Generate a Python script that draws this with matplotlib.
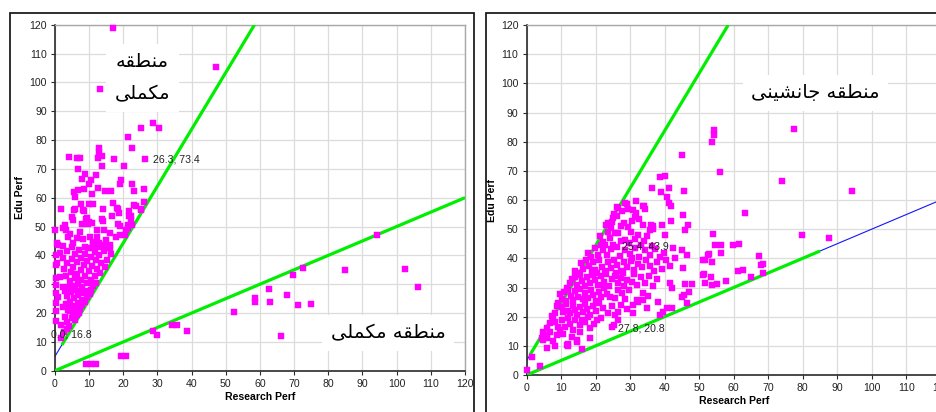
import matplotlib
matplotlib.use("Agg")
import matplotlib.pyplot as plt
from matplotlib import font_manager
from matplotlib.ft2font import FT2Font
from matplotlib.patches import Rectangle

# ---------------------------------------------------------------- data
# (Research Perf, Edu Perf) pairs, first chart
left_high = [(17.1, 118.8), (47.1, 105.5), (13.2, 97.7), (28.7, 85.8), (30.3, 84.3),
             (25.3, 84.3), (21.4, 81.2), (22.4, 77.4), (13.0, 77.3), (12.8, 75.9),
             (4.2, 74.2), (6.3, 73.8), (7.3, 73.8), (13.7, 74.6), (12.6, 73.7),
             (17.2, 73.5), (26.3, 73.4), (13.8, 71.1), (20.2, 71.0), (6.7, 70.0),
             (8.8, 68.3), (12.1, 68.0), (7.9, 66.5), (10.5, 66.1), (19.4, 66.1),
             (19.0, 64.8), (10.0, 64.8), (22.4, 64.6), (12.6, 63.3), (8.5, 62.9),
             (6.8, 62.7), (5.6, 62.0), (14.5, 62.3), (16.3, 62.3), (23.0, 62.3),
             (26.0, 62.9), (10.7, 61.2), (5.9, 60.4)]
left_mid = [(7.6, 57.8), (10.0, 57.8), (11.2, 57.8), (16.9, 58.1), (23.0, 57.4),
            (23.7, 57.2), (26.0, 58.4), (1.7, 56.1), (5.6, 55.7), (5.9, 56.1),
            (8.1, 55.7), (8.6, 55.4), (14.0, 56.0), (18.1, 56.4), (18.3, 56.0),
            (18.6, 54.6), (21.7, 55.5), (25.1, 55.7), (25.2, 56.0), (16.6, 53.5),
            (14.0, 51.9), (9.1, 52.6), (4.9, 53.2), (5.2, 52.3), (9.5, 52.9),
            (10.0, 51.7), (13.7, 52.5), (21.7, 53.7), (22.2, 52.3), (22.1, 53.8),
            (9.6, 50.8), (10.7, 51.1), (8.0, 50.9), (18.5, 50.8), (19.0, 50.2),
            (21.5, 50.5), (22.4, 50.5), (21.3, 49.4), (3.0, 50.4), (2.4, 49.4)]
left_core = [(1.8, 11.3), (1.9, 15.9), (2.5, 13.5), (3.5, 14.5), (4.2, 15.5), (0.3, 17.3),
             (2.9, 18.7), (4.9, 18.2), (5.9, 17.6), (3.6, 16.8), (6.4, 19.2), (0.2, 20.8),
             (3.9, 21.0), (5.4, 19.9), (4.5, 20.6), (7.0, 20.0),
             (5.0, 22.3), (6.2, 22.0), (7.3, 21.5), (8.0, 22.8), (3.2, 23.0), (4.3, 23.8),
             (6.6, 23.6), (8.9, 23.9), (0.3, 23.5), (2.2, 22.2),
             (7.8, 24.5), (9.3, 25.7), (5.5, 25.2), (3.6, 25.8), (6.8, 26.4), (8.3, 26.9),
             (10.2, 26.6), (4.7, 27.3), (1.0, 25.7), (0.3, 26.9), (2.8, 27.6), (9.6, 27.8),
             (7.4, 27.8), (6.0, 28.1),
             (10.4, 28.0), (3.8, 28.9), (5.1, 29.4), (8.0, 29.1), (11.2, 29.5), (2.4, 29.1),
             (0.3, 29.7), (6.6, 30.2), (9.3, 30.5), (12.0, 30.3), (4.4, 31.0), (7.6, 31.4),
             (10.6, 31.6), (1.5, 32.6), (5.8, 32.0), (0.2, 32.3),
             (3.2, 33.0), (8.9, 32.8), (11.8, 33.0), (13.2, 33.8), (6.5, 33.6), (4.8, 34.4),
             (9.9, 34.6), (7.6, 35.0), (12.4, 35.3), (5.4, 35.9), (14.6, 36.1), (0.3, 36.7),
             (2.5, 35.2), (10.8, 36.2), (8.6, 36.6),
             (0.7, 37.3), (3.6, 37.5), (6.3, 37.8), (9.4, 38.0), (11.9, 38.3), (15.1, 38.4),
             (13.6, 37.2), (4.9, 38.9), (7.7, 39.2), (10.5, 39.6), (2.2, 39.2), (13.0, 40.0),
             (16.4, 40.4), (8.8, 40.5), (5.9, 40.6), (0.3, 40.2),
             (1.5, 40.7), (11.7, 41.2), (14.4, 41.6), (3.6, 41.6), (7.0, 42.0), (9.6, 42.4),
             (11.0, 42.4), (16.1, 42.5), (5.0, 42.8), (12.8, 43.0), (1.0, 43.6), (2.4, 43.2),
             (8.8, 43.0), (14.4, 43.7), (16.0, 43.7), (0.5, 44.2), (5.4, 44.2), (13.0, 44.2),
             (8.1, 45.6), (10.2, 46.5), (12.2, 46.5), (6.3, 46.1), (3.9, 46.5), (14.9, 45.3),
             (17.9, 46.5), (19.0, 47.1), (20.5, 47.1), (0.0, 48.8), (3.2, 48.8), (12.2, 48.8),
             (14.4, 48.8), (20.9, 48.8), (16.2, 47.6), (7.2, 48.0), (11.1, 44.8), (4.5, 47.4)]
left_outer = [(28.6, 13.9), (29.8, 12.4), (34.1, 15.9), (35.6, 15.9), (38.5, 13.9),
              (19.2, 5.2), (20.8, 5.2), (9.1, 2.3), (10.4, 2.3), (12.0, 2.3),
              (52.4, 20.3), (58.5, 25.1), (58.5, 23.9), (62.7, 28.2), (62.9, 23.8),
              (66.1, 12.1), (67.8, 26.1), (69.6, 33.1), (72.5, 35.7), (71.1, 22.9),
              (74.9, 23.1), (84.9, 34.8), (94.1, 47.1), (102.4, 35.2), (106.1, 29.1)]

# (Research Perf, Edu Perf) pairs, second chart
right_outer = [(54.3, 83.9), (54.3, 82.3), (53.7, 80.0), (77.5, 84.3), (56.1, 69.5),
               (73.9, 66.6), (94.4, 63.0), (45.1, 75.4), (38.6, 68.0), (40.1, 68.3),
               (36.2, 64.0), (38.9, 62.6), (41.3, 64.0), (45.6, 63.2), (40.6, 61.1),
               (41.3, 59.1), (41.7, 58.0), (63.3, 55.4), (53.9, 48.2), (79.7, 47.9),
               (87.7, 46.9), (54.7, 44.6), (56.3, 44.6), (59.9, 44.6), (61.6, 44.9),
               (52.8, 41.4), (56.3, 41.9), (51.7, 39.4), (53.6, 38.7), (67.4, 40.9),
               (67.8, 37.7), (68.6, 38.1), (61.3, 35.8), (62.8, 36.0), (68.6, 35.1),
               (51.4, 34.5), (53.3, 33.7), (64.9, 33.7), (53.6, 30.9), (55.1, 31.2),
               (57.8, 32.2)]
right_upper = [(26.1, 57.7), (26.6, 57.2), (28.5, 58.9), (29.0, 58.8), (29.5, 57.0),
               (30.9, 56.7), (31.6, 59.8), (31.7, 55.6), (33.8, 57.9), (34.1, 58.0),
               (34.3, 56.8), (27.6, 56.2), (25.4, 55.3),
               (23.0, 51.4), (23.7, 52.2), (24.6, 52.6), (25.1, 53.7), (26.3, 54.6),
               (28.2, 52.2), (30.4, 52.8), (29.4, 50.6), (27.3, 51.2), (32.6, 53.6),
               (33.8, 51.4), (35.7, 49.7), (36.0, 51.4), (36.5, 51.1), (36.7, 50.0),
               (39.1, 51.4), (41.7, 52.9), (45.4, 54.9), (46.8, 51.4), (31.4, 54.1),
               (24.4, 50.3),
               (21.3, 47.6), (22.2, 45.7), (22.7, 44.6), (24.0, 47.0), (25.6, 48.8),
               (26.6, 48.8), (28.5, 46.3), (30.1, 48.9), (32.3, 48.0), (33.9, 46.0),
               (35.0, 47.6), (29.7, 45.2), (27.3, 45.8), (40.1, 48.0), (45.9, 49.7),
               (31.3, 46.7), (23.5, 49.1),
               (19.8, 43.4), (17.9, 41.9), (18.6, 40.4), (20.6, 41.3), (22.2, 42.9),
               (23.4, 41.0), (25.1, 44.6), (26.1, 44.0), (24.5, 43.3), (28.5, 42.9),
               (27.0, 40.9), (29.8, 41.5), (31.4, 43.6), (32.6, 40.6), (34.2, 42.8),
               (35.8, 41.2), (37.3, 43.3), (38.6, 40.4), (30.4, 40.2), (21.5, 44.6),
               (33.1, 44.6), (36.4, 44.1), (42.5, 43.6), (44.9, 42.9), (46.4, 41.1),
               (52.6, 41.1), (39.7, 42.0)]
right_middle = [(15.6, 38.4), (16.3, 36.4), (17.2, 39.5), (18.0, 37.3), (19.3, 38.7),
                (19.7, 36.0), (20.9, 39.6), (21.8, 37.2), (22.6, 35.6), (23.5, 38.6),
                (24.3, 36.8), (25.4, 39.4), (26.3, 37.6), (27.2, 35.5), (28.1, 38.9),
                (29.2, 37.0), (30.3, 39.2), (31.0, 36.0), (32.2, 38.1), (33.4, 36.9),
                (34.5, 39.6), (35.6, 37.4), (36.8, 35.8), (37.9, 38.7), (39.2, 36.4),
                (40.3, 39.4), (41.5, 37.3), (43.0, 40.0), (45.2, 36.6), (51.2, 39.4),
                (18.8, 35.2), (25.8, 35.1), (13.9, 35.8),
                (12.6, 31.4), (13.2, 33.0), (14.0, 33.7), (14.6, 31.0), (15.4, 34.4),
                (16.1, 32.3), (16.8, 30.5), (17.5, 33.6), (18.4, 31.5), (19.1, 34.3),
                (19.9, 32.5), (20.7, 30.7), (21.4, 33.8), (22.3, 31.8), (23.1, 34.6),
                (23.9, 30.4), (24.8, 32.9), (25.7, 34.1), (26.5, 31.4), (27.4, 33.2),
                (28.3, 30.6), (29.2, 32.6), (30.4, 32.0), (31.2, 34.6), (32.1, 30.8),
                (33.0, 33.6), (34.2, 31.6), (35.5, 33.9), (36.6, 30.5), (37.8, 32.8),
                (41.5, 31.4), (45.9, 31.1), (47.8, 31.1), (51.7, 31.4), (51.2, 34.3),
                (14.9, 35.0), (20.3, 35.0), (27.9, 34.9)]
right_lower = [(10.2, 26.2), (10.8, 28.4), (11.4, 25.3), (12.1, 29.1), (12.7, 27.2),
               (13.4, 25.6), (14.1, 28.9), (14.8, 26.8), (15.5, 29.6), (16.3, 25.9),
               (17.0, 28.0), (17.8, 26.5), (18.5, 29.2), (19.3, 27.4), (20.1, 25.4),
               (20.9, 28.6), (21.6, 26.9), (22.4, 29.8), (23.2, 27.7), (24.1, 26.8),
               (25.6, 26.3), (26.4, 29.0), (27.5, 28.0), (28.6, 25.9), (29.7, 29.3),
               (31.9, 25.7), (32.2, 25.1), (33.8, 25.7), (33.8, 28.0), (35.1, 27.2),
               (38.1, 25.1), (42.0, 29.7), (44.9, 26.8), (45.6, 27.4), (47.0, 28.6),
               (11.7, 30.0), (9.6, 27.8),
               (8.2, 21.3), (8.8, 23.5), (9.2, 24.6), (10.1, 23.4), (10.6, 21.6),
               (11.3, 24.2), (11.9, 22.0), (12.6, 21.1), (13.3, 23.6), (14.0, 22.3),
               (14.7, 20.5), (15.5, 23.4), (16.2, 21.6), (16.9, 24.4), (17.6, 22.6),
               (18.4, 20.6), (19.3, 23.8), (20.1, 21.9), (21.0, 24.6), (22.2, 22.9),
               (23.7, 21.1), (24.6, 23.6), (25.6, 20.6), (26.6, 21.7), (27.4, 24.1),
               (29.0, 22.6), (30.9, 21.1), (30.9, 24.0), (34.8, 22.9), (38.6, 20.5),
               (39.4, 21.7), (40.6, 22.9), (42.0, 22.9), (46.4, 24.6), (7.4, 20.4),
               (6.0, 16.1), (6.8, 17.7), (7.6, 19.2), (8.2, 18.3), (9.0, 16.6),
               (10.1, 18.9), (11.1, 16.6), (11.9, 19.6), (12.6, 17.4), (14.0, 18.9),
               (15.5, 17.0), (15.9, 18.9), (16.9, 18.3), (17.8, 19.8), (18.3, 16.0),
               (19.5, 17.6), (20.3, 18.9), (21.5, 19.6), (24.6, 16.6), (25.3, 17.1),
               (26.6, 18.9), (9.7, 15.4), (13.4, 15.5),
               (4.3, 12.6), (4.8, 12.0), (4.8, 14.8), (5.8, 12.6), (5.8, 13.7),
               (6.8, 14.8), (8.7, 13.7), (8.2, 9.9), (11.8, 10.3), (12.1, 10.6),
               (11.9, 10.0), (13.0, 13.1), (14.5, 12.0), (14.5, 11.4), (15.5, 14.8),
               (18.3, 12.7), (10.4, 14.0), (7.6, 11.5),
               (0.0, 1.7), (1.6, 6.1), (3.9, 3.2), (5.8, 9.1), (15.9, 8.8)]

# boundary lines (Research Perf, Edu Perf endpoints)
steep_trend_x = [0, 58.4]
steep_trend_y = [5, 120]
left_steep_x = [2.0, 58.4]
left_steep_y = [8.9, 120]
right_steep_x = [1.0, 58.4]
right_steep_y = [7.0, 120]
flat_trend_x = [0, 120]
flat_trend_y = [0, 60]
left_flat_x = [0, 120]
left_flat_y = [0, 60]
right_flat_x = [0, 85]
right_flat_y = [0, 42.5]

# point labels: (text, x, y)
left_point_labels = [("26.3, 73.4", 28.6, 73.1), ("0.0, 16.8", -1.2, 12.4)]
right_point_labels = [("25.4, 43.9", 27.5, 44.2), ("27.8, 20.8", 26.6, 16.0)]

zone_upper = "منطقه\nمکملی"
zone_lower = "منطقه مکملی"
zone_middle = "منطقه جانشینی"

ticks = list(range(0, 121, 10))

# ---------------------------------------------------------------- Persian shaping
# contextual forms: (isolated, final, initial, medial)
FORMS = {
    "\u0627": ("\uFE8D", "\uFE8E", None, None),
    "\u062C": ("\uFE9D", "\uFE9E", "\uFE9F", "\uFEA0"),
    "\u0634": ("\uFEB5", "\uFEB6", "\uFEB7", "\uFEB8"),
    "\u0637": ("\uFEC1", "\uFEC2", "\uFEC3", "\uFEC4"),
    "\u0642": ("\uFED5", "\uFED6", "\uFED7", "\uFED8"),
    "\u0644": ("\uFEDD", "\uFEDE", "\uFEDF", "\uFEE0"),
    "\u0645": ("\uFEE1", "\uFEE2", "\uFEE3", "\uFEE4"),
    "\u0646": ("\uFEE5", "\uFEE6", "\uFEE7", "\uFEE8"),
    "\u0647": ("\uFEE9", "\uFEEA", "\uFEEB", "\uFEEC"),
    "\u06A9": ("\uFB8E", "\uFB8F", "\uFB90", "\uFB91"),
    "\u06CC": ("\uFBFC", "\uFBFD", "\uFBFE", "\uFBFF"),
}
FALLBACK = {
    "\u06A9": ("\uFED9", "\uFEDA", "\uFEDB", "\uFEDC"),
    "\u06CC": ("\uFEEF", "\uFEF0", "\uFEF3", "\uFEF4"),
}
FARSI_FONT = "DejaVu Sans"
_face = FT2Font(font_manager.findfont(FARSI_FONT))
for key, forms in FALLBACK.items():
    if any(_face.get_char_index(ord(g)) == 0 for g in FORMS[key]):
        FORMS[key] = forms


def _joins_next(ch):
    return ch in FORMS and FORMS[ch][2] is not None


def shape(text):
    lines = []
    for line in text.split("\n"):
        out = []
        for i, ch in enumerate(line):
            if ch not in FORMS:
                out.append(ch)
                continue
            prev = line[i - 1] if i > 0 else ""
            nxt = line[i + 1] if i + 1 < len(line) else ""
            p = _joins_next(prev)
            n = _joins_next(ch) and nxt in FORMS
            iso, fin, ini, med = FORMS[ch]
            out.append(med if (p and n) else fin if p else ini if n else iso)
        lines.append("".join(reversed(out)))
    return "\n".join(lines)


# ---------------------------------------------------------------- drawing
plt.rcParams["font.family"] = ["Liberation Sans", "DejaVu Sans"]
W, H = 937, 412
fig = plt.figure(figsize=(W / 100, H / 100), dpi=100)
fig.patch.set_facecolor("white")

# chart frames
fig.add_artist(Rectangle((10 / W, -0.2), 464 / W, 1.2 - 12.7 / H, transform=fig.transFigure,
                         fill=False, edgecolor="#1e1e1e", linewidth=1.3))
fig.add_artist(Rectangle((485.7 / W, -0.2), 0.6, 1.2 - 12.7 / H, transform=fig.transFigure,
                         fill=False, edgecolor="#1e1e1e", linewidth=1.3))

ax1 = fig.add_axes([55 / W, 1 - 370.7 / H, 410 / W, 346 / H])
ax2 = fig.add_axes([526.7 / W, 1 - 375 / H, 414 / W, 350 / H])

GREEN = "#00ee00"
BLUE = "#1414ff"
MAGENTA = "#ff00ff"


def style(ax):
    ax.set_xlim(0, 120)
    ax.set_ylim(0, 120)
    ax.set_xticks(ticks)
    ax.set_yticks(ticks)
    ax.grid(True, color="#dcdcdc", linewidth=0.9)
    ax.set_axisbelow(True)
    for side in ("left", "bottom"):
        ax.spines[side].set_color("#2a2a2a")
        ax.spines[side].set_linewidth(1.2)
    for side in ("top", "right"):
        ax.spines[side].set_color("#a8a8a8")
        ax.spines[side].set_linewidth(1.0)
    ax.tick_params(direction="out", length=3, width=0.8, color="#2a2a2a",
                   labelsize=7.6, labelcolor="#222222", pad=3)
    ax.set_xlabel("Research Perf", fontsize=7.6, fontweight="bold", labelpad=2)
    ax.set_ylabel("Edu Perf", fontsize=7.6, fontweight="bold", labelpad=3)


def scatter(ax, groups):
    for g in groups:
        xs, ys = zip(*g)
        ax.plot(xs, ys, linestyle="none", marker="s", markersize=4.6,
                markerfacecolor=MAGENTA, markeredgecolor=MAGENTA, markeredgewidth=0.3,
                clip_on=False, zorder=4)


style(ax1)
style(ax2)

# first chart
ax1.plot(steep_trend_x, steep_trend_y, color=BLUE, lw=0.8, zorder=2)
ax1.plot(flat_trend_x, flat_trend_y, color=BLUE, lw=0.8, zorder=2)
ax1.plot(left_steep_x, left_steep_y, color=GREEN, lw=2.3, zorder=3, solid_capstyle="butt")
ax1.plot(left_flat_x, left_flat_y, color=GREEN, lw=2.3, zorder=3, solid_capstyle="butt")
scatter(ax1, [left_high, left_mid, left_core, left_outer])
for txt, x, y in left_point_labels:
    ax1.text(x, y, txt, fontsize=7.6, color="#222222", va="center", ha="left", zorder=5)

box = dict(facecolor="white", edgecolor="none", pad=6)
ax1.text(25.6, 101.5, shape(zone_upper), family=FARSI_FONT, fontsize=14, ha="center",
         va="center", linespacing=1.9, bbox=box, zorder=3)
ax1.text(97.5, 13.1, shape(zone_lower), family=FARSI_FONT, fontsize=14, ha="center",
         va="center", bbox=box, zorder=3)

# second chart
ax2.plot(steep_trend_x, steep_trend_y, color=BLUE, lw=0.8, zorder=2)
ax2.plot(flat_trend_x, flat_trend_y, color=BLUE, lw=0.8, zorder=2)
ax2.plot(right_steep_x, right_steep_y, color=GREEN, lw=2.3, zorder=3, solid_capstyle="butt")
ax2.plot(right_flat_x, right_flat_y, color=GREEN, lw=2.3, zorder=3, solid_capstyle="butt")
scatter(ax2, [right_outer, right_upper, right_middle, right_lower])
for txt, x, y in right_point_labels:
    ax2.text(x, y, txt, fontsize=7.6, color="#222222", va="center", ha="left", zorder=5)
ax2.text(83.6, 96.7, shape(zone_middle), family=FARSI_FONT, fontsize=14, ha="center",
         va="center", bbox=box, zorder=3)

fig.savefig("out.png", dpi=100)
